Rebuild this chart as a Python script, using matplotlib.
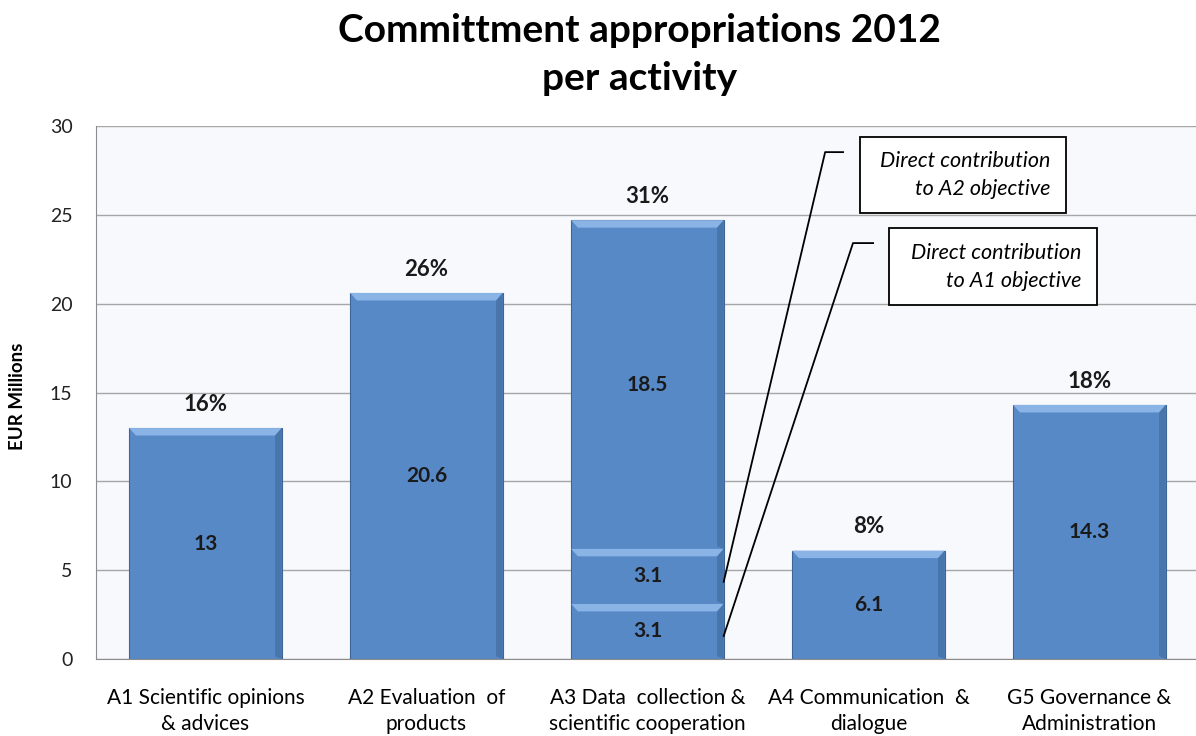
import matplotlib.pyplot as plt
from matplotlib.patches import Polygon, Rectangle

plt.rcParams["font.family"] = ["Lato", "DejaVu Sans"]

categories = ["A1 Scientific opinions\n& advices", "A2 Evaluation  of\nproducts",
              "A3 Data  collection &\nscientific cooperation", "A4 Communication  &\ndialogue",
              "G5 Governance &\nAdministration"]
# stacked segments per bar (bottom to top)
segments = [[13], [20.6], [3.1, 3.1, 18.5], [6.1], [14.3]]
seg_labels = [["13"], ["20.6"], ["3.1", "3.1", "18.5"], ["6.1"], ["14.3"]]
shares = ["16%", "26%", "31%", "8%", "18%"]
notes = ["Direct contribution\nto A1 objective", "Direct contribution\nto A2 objective"]

BLUE = "#5889c7"
LIGHT = "#8ab3e6"
DARK = "#3d6598"
W = 0.69

fig = plt.figure(figsize=(11.96, 7.36), dpi=100)
ax = fig.add_axes([0.0803, 0.1046, 0.9197, 0.7242])
ax.set_facecolor("#f8f9fd")
ax.set_xlim(-0.495, 4.482)
ax.set_ylim(0, 30)
ax.set_yticks(range(0, 31, 5))
ax.yaxis.grid(True, color="#a6a6a6", linewidth=1)
ax.set_axisbelow(True)
for s in ["top", "right"]:
    ax.spines[s].set_visible(False)
for s in ["left", "bottom"]:
    ax.spines[s].set_color("#8c8c8c")
ax.tick_params(axis="y", length=0, labelsize=14, pad=17, colors="#222222")
ax.tick_params(axis="x", length=0, labelsize=15, pad=21)
ax.set_xticks(range(len(categories)))
ax.set_xticklabels(categories, linespacing=1.35)
fig.text(18 / 1196, 1 - 396 / 736, "EUR Millions", rotation=90, ha="center", va="center",
         fontsize=13.5, fontweight="bold")

hx = 0.03    # bevel width in data units
hy = 0.42    # bevel height in data units
for i, (segs, labs) in enumerate(zip(segments, seg_labels)):
    bottom = 0
    x0, x1 = i - W / 2, i + W / 2
    for v, lab in zip(segs, labs):
        top = bottom + v
        ax.bar(i, v, W, bottom=bottom, color=BLUE, edgecolor=DARK, linewidth=0.8, zorder=2)
        ax.add_patch(Polygon([(x0, top), (x1, top), (x1 - hx, top - hy), (x0 + hx, top - hy)],
                             closed=True, color=LIGHT, linewidth=0, zorder=3))
        ax.add_patch(Polygon([(x1, top), (x1, bottom), (x1 - hx, bottom + 0.15),
                              (x1 - hx, top - hy)],
                             closed=True, color=DARK, alpha=0.55, linewidth=0, zorder=3))
        ax.text(i, bottom + v / 2, lab, ha="center", va="center", fontsize=15,
                fontweight="bold", color="#1a1a1a", zorder=4)
        bottom = top
    ax.text(i, bottom + 0.75, shares[i], ha="center", va="bottom", fontsize=16,
            fontweight="bold", color="#1a1a1a")

# leader lines from the two small A3 segments to their notes
a3 = 2
starts = [1.3, 4.35]
ends = [(2.930, 23.41), (2.804, 28.53)]
tick_len = [0.091, 0.081]
boxes = [(3.093, 4.034, 19.92, 24.25), (2.962, 3.894, 25.10, 29.37)]
for y0, (xe, ye), tl, (bx0, bx1, by0, by1), note in zip(starts, ends, tick_len, boxes, notes):
    ax.plot([a3 + W / 2, xe, xe + tl], [y0, ye, ye], color="black", linewidth=1.3,
            clip_on=False, zorder=5)
    ax.add_patch(Rectangle((bx0, by0), bx1 - bx0, by1 - by0, facecolor="white",
                           edgecolor="black", linewidth=1.3, zorder=6))
    ax.text(bx1 - 0.07, (by0 + by1) / 2, note, ha="right", va="center", fontsize=15.5,
            style="italic", multialignment="right", linespacing=1.5, zorder=7)

fig.text(0.535, 1 - 30 / 736, "Committment appropriations 2012", ha="center",
         va="center", fontsize=28, fontweight="bold")
fig.text(0.535, 1 - 78 / 736, "per activity", ha="center",
         va="center", fontsize=28, fontweight="bold")

fig.savefig("out.png", dpi=100)
